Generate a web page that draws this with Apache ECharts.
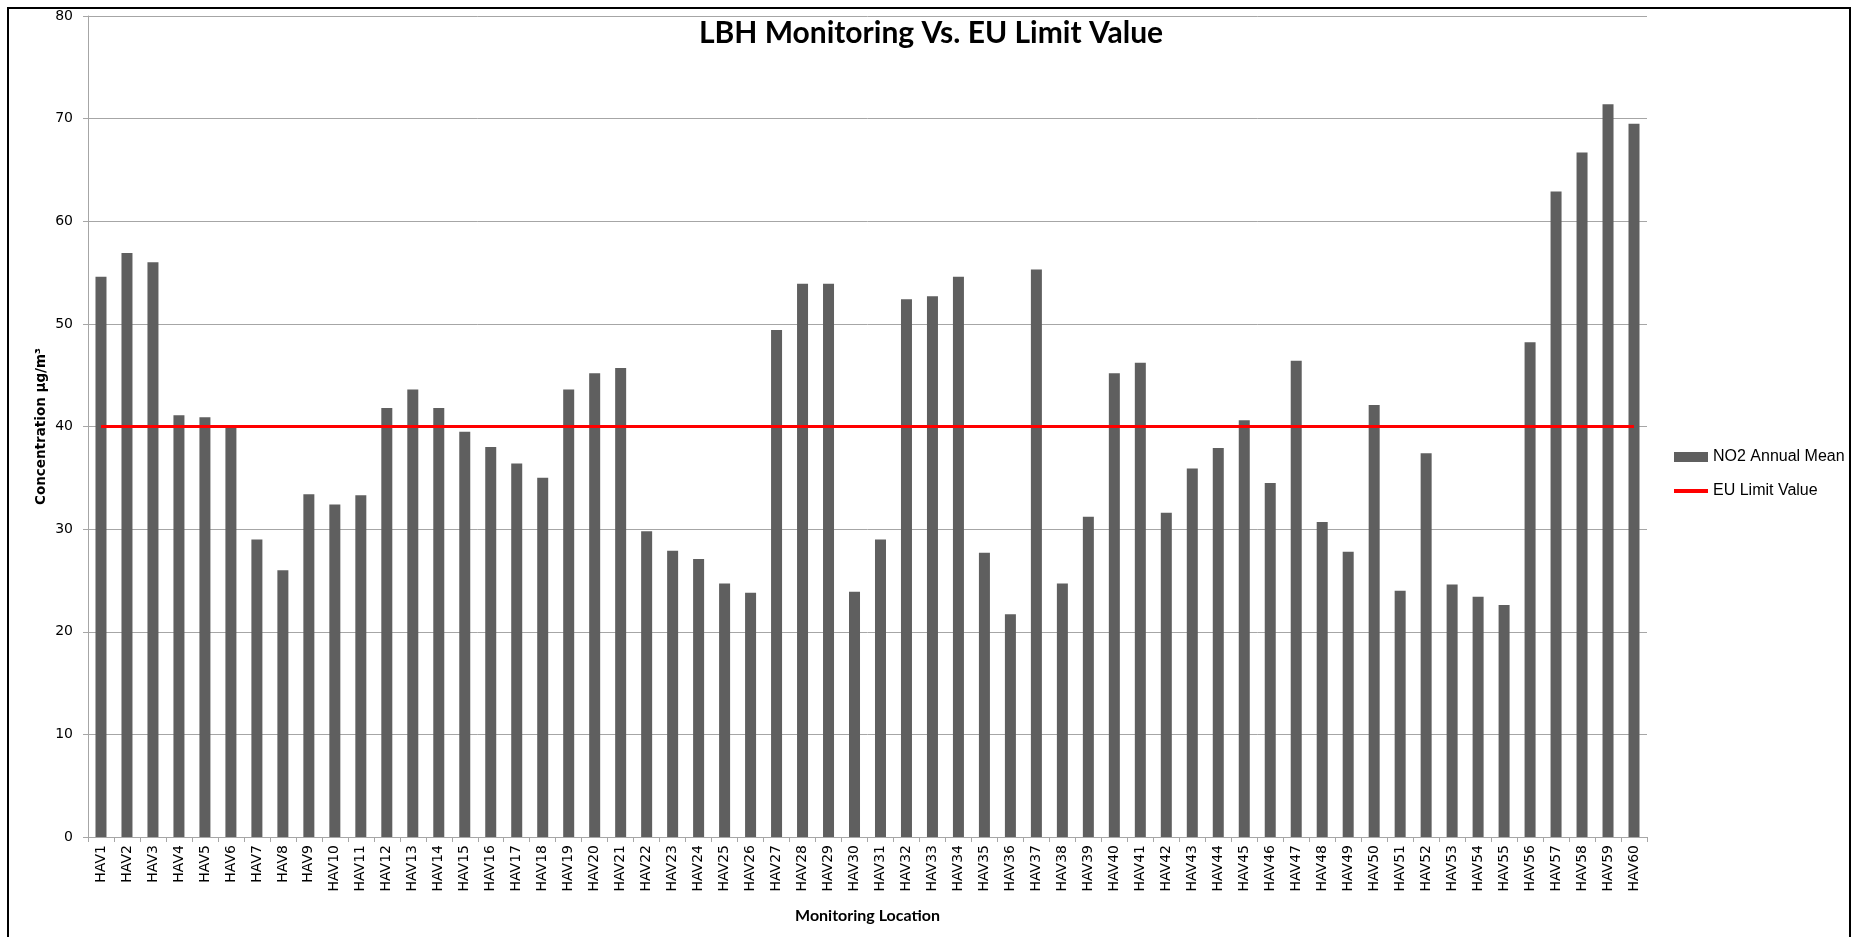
<!DOCTYPE html>
<html>
<head>
<meta charset="utf-8">
<script src="https://cdn.jsdelivr.net/npm/echarts@6/dist/echarts.min.js"></script>
<style>
html,body{margin:0;padding:0;background:#fff;}
#chart{width:1856px;height:937px;}
</style>
</head>
<body>
<div id="chart"></div>
<script>
const categories = ['HAV1','HAV2','HAV3','HAV4','HAV5','HAV6','HAV7','HAV8','HAV9','HAV10',
  'HAV11','HAV12','HAV13','HAV14','HAV15','HAV16','HAV17','HAV18','HAV19','HAV20',
  'HAV21','HAV22','HAV23','HAV24','HAV25','HAV26','HAV27','HAV28','HAV29','HAV30',
  'HAV31','HAV32','HAV33','HAV34','HAV35','HAV36','HAV37','HAV38','HAV39','HAV40',
  'HAV41','HAV42','HAV43','HAV44','HAV45','HAV46','HAV47','HAV48','HAV49','HAV50',
  'HAV51','HAV52','HAV53','HAV54','HAV55','HAV56','HAV57','HAV58','HAV59','HAV60'];
const no2AnnualMean = [54.6,56.9,56.0,41.1,40.9,40.0,29.0,26.0,33.4,32.4,
  33.3,41.8,43.6,41.8,39.5,38.0,36.4,35.0,43.6,45.2,
  45.7,29.8,27.9,27.1,24.7,23.8,49.4,53.9,53.9,23.9,
  29.0,52.4,52.7,54.6,27.7,21.7,55.3,24.7,31.2,45.2,
  46.2,31.6,35.9,37.9,40.6,34.5,46.4,30.7,27.8,42.1,
  24.0,37.4,24.6,23.4,22.6,48.2,62.9,66.7,71.4,69.5];
const euLimitValue = [['HAV1', 40], ['HAV60', 40]];
const yTicks = {min: 0, max: 80, interval: 10};

const chart = echarts.init(document.getElementById('chart'), null, {renderer: 'canvas'});
const axisGray = '#a6a6a6';
chart.setOption({
  backgroundColor: '#ffffff',
  animation: false,
  title: {
    text: 'LBH Monitoring Vs. EU Limit Value',
    left: 926, top: 13, textAlign: 'center',
    textStyle: {fontFamily: 'Lato', fontWeight: 'bold', fontSize: 30, color: '#000'}
  },
  graphic: [{
    type: 'rect', silent: true,
    shape: {x: 8, y: 8, width: 1842, height: 960},
    style: {fill: 'none', stroke: '#000', lineWidth: 2}
  }],
  legend: {
    orient: 'vertical', left: 1669, top: 444,
    itemWidth: 34, itemHeight: 14, itemGap: 18,
    textStyle: {fontFamily: 'Liberation Sans', fontSize: 16, color: '#000'},
    data: [
      {name: 'NO2 Annual Mean', icon: 'path://M0,0H34V10H0Z'},
      {name: 'EU Limit Value', icon: 'path://M0,0H34V4H0Z'}
    ]
  },
  grid: {left: 88, right: 209, top: 16, bottom: 100, containLabel: false},
  xAxis: {
    type: 'category', data: categories, boundaryGap: true,
    name: 'Monitoring Location', nameLocation: 'middle', nameGap: 71, nameMoveOverlap: false,
    nameTextStyle: {fontFamily: 'Lato', fontWeight: 'bold', fontSize: 16, color: '#000'},
    axisLine: {lineStyle: {color: axisGray, width: 1}},
    axisTick: {show: true, length: 5, lineStyle: {color: axisGray}},
    axisLabel: {rotate: 90, interval: 0, margin: 8, fontFamily: 'DejaVu Sans', fontSize: 14, color: '#000'},
    splitLine: {show: false}
  },
  yAxis: {
    type: 'value', min: yTicks.min, max: yTicks.max, interval: yTicks.interval,
    name: 'Concentration µg/m³', nameLocation: 'middle', nameGap: 40, nameRotate: 90, nameMoveOverlap: false,
    nameTextStyle: {fontFamily: 'DejaVu Sans', fontWeight: 'bold', fontSize: 13.5, color: '#000'},
    axisLine: {show: true, lineStyle: {color: axisGray, width: 1}},
    axisTick: {show: true, length: 5, lineStyle: {color: axisGray}},
    axisLabel: {margin: 15, fontFamily: 'DejaVu Sans', fontSize: 14, color: '#000'},
    splitLine: {show: true, lineStyle: {color: axisGray, width: 1}}
  },
  series: [
    {
      name: 'NO2 Annual Mean', type: 'bar', data: no2AnnualMean,
      barWidth: 11, itemStyle: {color: '#5f5f5f'}, z: 2
    },
    {
      name: 'EU Limit Value', type: 'line', data: euLimitValue,
      symbol: 'none', lineStyle: {color: '#ff0000', width: 3}, itemStyle: {color: '#ff0000'}, z: 3
    }
  ]
});
</script>
</body>
</html>
